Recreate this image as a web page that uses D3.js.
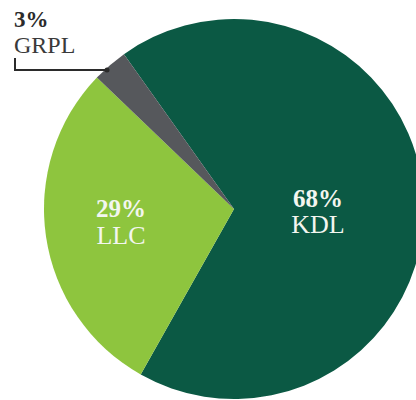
<!DOCTYPE html>
<html><head><meta charset="utf-8">
<script src="https://cdn.jsdelivr.net/npm/d3@7"></script>
<style>html,body{margin:0;padding:0;background:#fff;}svg{display:block;}</style>
</head><body>
<svg id="chart" width="416" height="400"></svg>
<script>
const categories = ["KDL", "LLC", "GRPL"];
const values = [68, 29, 3];
const labels = ["68%", "29%", "3%"];
const colors = ["#0b5944", "#8ec53e", "#56585c"];

const svg = d3.select("#chart");
const cx = 234, cy = 209, r = 190;
const start = -35.4 * Math.PI / 180;

const pie = d3.pie().sort(null).value(d => d.v).startAngle(start).endAngle(start + 2 * Math.PI);
const data = categories.map((c, i) => ({c, v: values[i], l: labels[i], col: colors[i]}));
const arcs = pie(data);
const arc = d3.arc().innerRadius(0).outerRadius(r);

const g = svg.append("g").attr("transform", `translate(${cx},${cy})`);
g.selectAll("path").data(arcs).enter().append("path")
  .attr("d", arc).attr("fill", d => d.data.col);

const font = "'Liberation Serif', 'Times New Roman', serif";
// inside labels: one text element with two lines
const pos = {KDL: [318, 207, 26], LLC: [121, 217, 27]};
arcs.forEach(a => {
  const p = pos[a.data.c];
  if (!p) return;
  const t = svg.append("text").attr("x", p[0]).attr("y", p[1]).attr("text-anchor", "middle")
    .attr("font-family", font).attr("fill", "#f3f6f0");
  t.append("tspan").attr("x", p[0]).attr("font-weight", "bold").attr("font-size", 25).text(a.data.l);
  t.append("tspan").attr("x", p[0]).attr("dy", p[2]).attr("font-size", 26).text(a.data.c);
});

// GRPL outside label
const small = arcs[2];
const t2 = svg.append("text").attr("x", 14).attr("y", 27).attr("font-family", font).attr("fill", "#2b2b2b");
t2.append("tspan").attr("x", 14).attr("font-weight", "bold").attr("font-size", 23).text(small.data.l);
t2.append("tspan").attr("x", 14).attr("dy", 26).attr("font-size", 24).attr("fill", "#3a3a3a").text(small.data.c);
svg.append("path").attr("d", "M15,58 V70 H106").attr("fill", "none")
  .attr("stroke", "#2b2b2b").attr("stroke-width", 2);
svg.append("circle").attr("cx", 107).attr("cy", 70).attr("r", 2.5).attr("fill", "#2b2b2b");
</script>
</body></html>
